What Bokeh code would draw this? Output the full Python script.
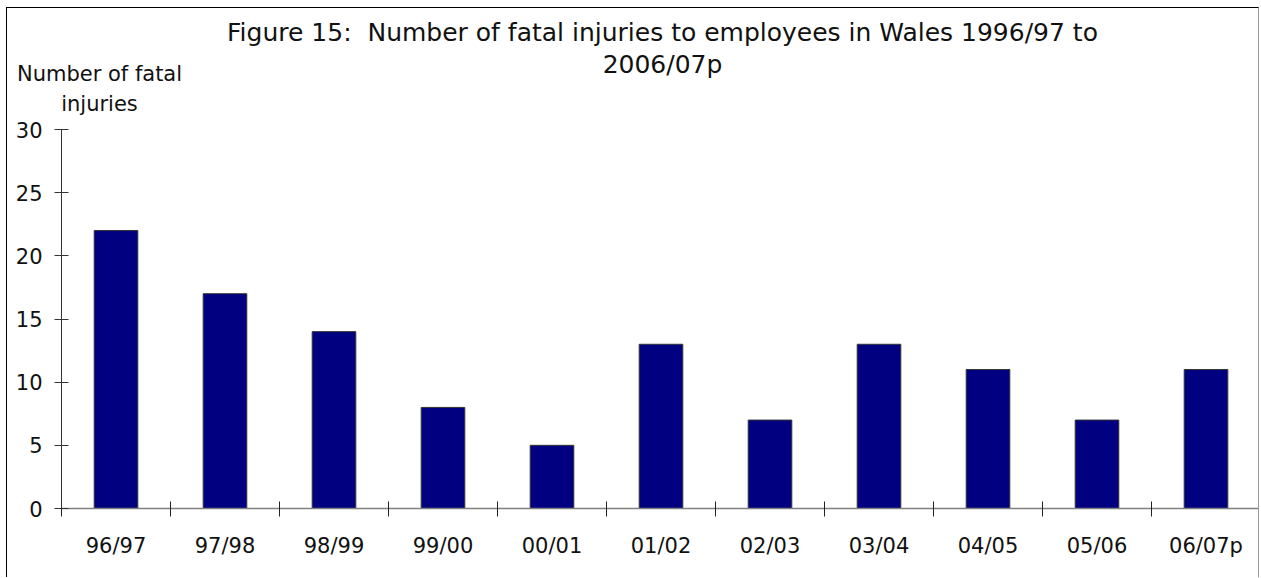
from bokeh.plotting import figure
from bokeh.models import Range1d, FixedTicker
from bokeh.core.properties import value
from bokeh.embed import file_html
from bokeh.resources import INLINE
import numpy as np

categories = ["96/97", "97/98", "98/99", "99/00", "00/01", "01/02",
              "02/03", "03/04", "04/05", "05/06", "06/07p"]
fatal_injuries = [22, 17, 14, 8, 5, 13, 7, 13, 11, 7, 11]
y_ticks = [0, 5, 10, 15, 20, 25, 30]
title_lines = ["Figure 15:\u00a0 Number of fatal injuries to employees in Wales 1996/97 to",
               "2006/07p"]
ylabel_lines = ["Number of fatal", "injuries"]

FONT = "DejaVu Sans"
W = 1253
TOP_H = 110
BOTTOM_H = 460

n = len(categories)
centers = list(np.arange(n) + 0.5)
bounds = list(range(n + 1))

# ---- header panel (title + y-axis caption), pixel-like coordinates ----
head = figure(width=W, height=TOP_H, output_backend="svg", toolbar_location=None,
              x_range=Range1d(0, W), y_range=Range1d(TOP_H, 0),
              min_border=0, x_axis_type=None, y_axis_type=None)
head.outline_line_color = None
head.xgrid.visible = False
head.ygrid.visible = False
head.text(x=[655, 655], y=[24, 56], text=title_lines, text_align="center",
          text_baseline="middle", text_font=value(FONT), text_font_size="25px",
          text_color="#111111")
head.text(x=[92, 92], y=[65, 95], text=ylabel_lines, text_align="center",
          text_baseline="middle", text_font=value(FONT), text_font_size="21px",
          text_color="#111111")
head.styles = {"margin-left": "6px", "margin-top": "7px",
               "border-left": "1px solid black", "border-top": "1px solid black",
               "border-right": "1px solid #999999"}

# ---- chart ----
p = figure(width=W, height=BOTTOM_H, output_backend="svg", toolbar_location=None,
           x_range=Range1d(0, n), y_range=Range1d(0, 30),
           min_border_left=54, min_border_right=0, min_border_top=12,
           min_border_bottom=69)
p.outline_line_color = None
p.xgrid.visible = False
p.ygrid.visible = False
p.styles = {"margin-left": "6px",
            "border-left": "1px solid black",
            "border-right": "1px solid #999999"}

p.vbar(x=centers, top=fatal_injuries, width=0.4, bottom=0,
       fill_color="#000080", line_color="#333333", line_width=1)

xa = p.xaxis[0]
xa.ticker = FixedTicker(ticks=centers, minor_ticks=bounds)
xa.major_label_overrides = {c: lab for c, lab in zip(centers, categories)}
xa.major_tick_line_color = None
xa.major_tick_in = 0
xa.major_tick_out = 0
xa.minor_tick_in = 7
xa.minor_tick_out = 8
xa.minor_tick_line_color = "#222222"
xa.axis_line_color = "#808080"
xa.axis_line_width = 1.5
xa.major_label_text_font = FONT
xa.major_label_text_font_size = "21px"
xa.major_label_text_color = "#111111"
xa.major_label_standoff = 17

ya = p.yaxis[0]
ya.ticker = FixedTicker(ticks=y_ticks)
ya.minor_tick_line_color = None
ya.major_tick_in = 7
ya.major_tick_out = 7
ya.major_tick_line_color = "#333333"
ya.axis_line_color = "#333333"
ya.major_label_text_font = FONT
ya.major_label_text_font_size = "21px"
ya.major_label_text_color = "#111111"
ya.major_label_standoff = 12

open("out.html", "w").write(file_html([head, p], INLINE))
